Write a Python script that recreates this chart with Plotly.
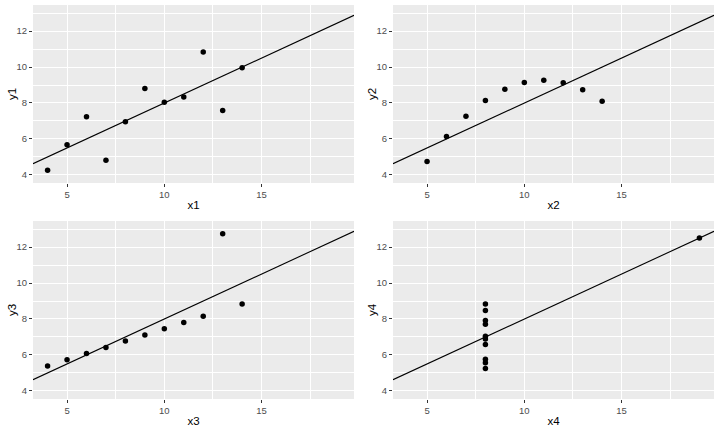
import plotly.graph_objects as go

# Anscombe's quartet
x1 = [10, 8, 13, 9, 11, 14, 6, 4, 12, 7, 5]
x2 = [10, 8, 13, 9, 11, 14, 6, 4, 12, 7, 5]
x3 = [10, 8, 13, 9, 11, 14, 6, 4, 12, 7, 5]
x4 = [8, 8, 8, 8, 8, 8, 8, 19, 8, 8, 8]
y1 = [8.04, 6.95, 7.58, 8.81, 8.33, 9.96, 7.24, 4.26, 10.84, 4.82, 5.68]
y2 = [9.14, 8.14, 8.74, 8.77, 9.26, 8.10, 6.13, 3.10, 9.13, 7.26, 4.74]
y3 = [7.46, 6.77, 12.74, 7.11, 7.81, 8.84, 6.08, 5.39, 8.15, 6.42, 5.73]
y4 = [6.58, 5.76, 7.71, 8.84, 8.47, 7.04, 5.25, 12.50, 5.56, 7.91, 6.89]

intercept = 3
slope = 0.5
x_limits = [4, 19]
y_limits = [4, 13]

panels = [("x1", "y1", x1, y1), ("x2", "y2", x2, y2),
          ("x3", "y3", x3, y3), ("x4", "y4", x4, y4)]

W, H = 720, 432
def expand(lim):
    d = (lim[1] - lim[0]) * 0.05
    return [lim[0] - d, lim[1] + d]
xr = expand(x_limits)
yr = expand(y_limits)

# pixel boxes (left, right, top, bottom)
boxes = [(33, 354, 5, 183), (393, 714, 5, 183),
         (33, 354, 221, 399), (393, 714, 221, 399)]

fig = go.Figure()
layout = dict(width=W, height=H, margin=dict(l=0, r=0, t=0, b=0, autoexpand=False),
              paper_bgcolor="white", plot_bgcolor="#EBEBEB",
              showlegend=False, font=dict(family="Liberation Sans, Arial, sans-serif"))
annotations = []

for i, ((xn, yn, xs, ys), (l, r, t, b)) in enumerate(zip(panels, boxes)):
    k = "" if i == 0 else str(i + 1)
    xa, ya = "x" + k, "y" + k
    fig.add_trace(go.Scatter(x=xs, y=ys, mode="markers", xaxis=xa, yaxis=ya,
                             marker=dict(color="black", size=5.5), cliponaxis=True))
    fig.add_trace(go.Scatter(x=xr, y=[intercept + slope * v for v in xr], mode="lines",
                             xaxis=xa, yaxis=ya, line=dict(color="black", width=1.1)))
    common = dict(showline=False, zeroline=False, gridcolor="white", gridwidth=1.1,
                  ticks="outside", ticklen=3, tickwidth=1, tickcolor="#333333",
                  tickfont=dict(size=9.5, color="#4D4D4D"), automargin=False,
                  title_font=dict(size=11.5, color="black"))
    layout["xaxis" + k] = dict(common, domain=[l / W, r / W], range=xr, anchor=ya,
                               tickvals=[5, 10, 15],
                               minor=dict(tickvals=[7.5, 12.5, 17.5], showgrid=True,
                                          gridcolor="white", gridwidth=0.5, ticks=""),
                               title=dict(text=xn, standoff=1))
    layout["yaxis" + k] = dict(common, domain=[1 - b / H, 1 - t / H], range=yr, anchor=xa,
                               tickvals=[4, 6, 8, 10, 12],
                               minor=dict(tickvals=[5, 7, 9, 11, 13], showgrid=True,
                                          gridcolor="white", gridwidth=0.5, ticks=""))
    annotations.append(dict(text=yn, textangle=-90, xref="paper", yref="paper",
                            x=(l - 21) / W, y=1 - (t + b) / 2 / H, showarrow=False,
                            xanchor="center", yanchor="middle",
                            font=dict(size=11.5, color="black")))

layout["annotations"] = annotations
fig.update_layout(**layout)
fig.write_html("out.html", config={"displayModeBar": False},
               post_script="document.body.style.margin='0';")
